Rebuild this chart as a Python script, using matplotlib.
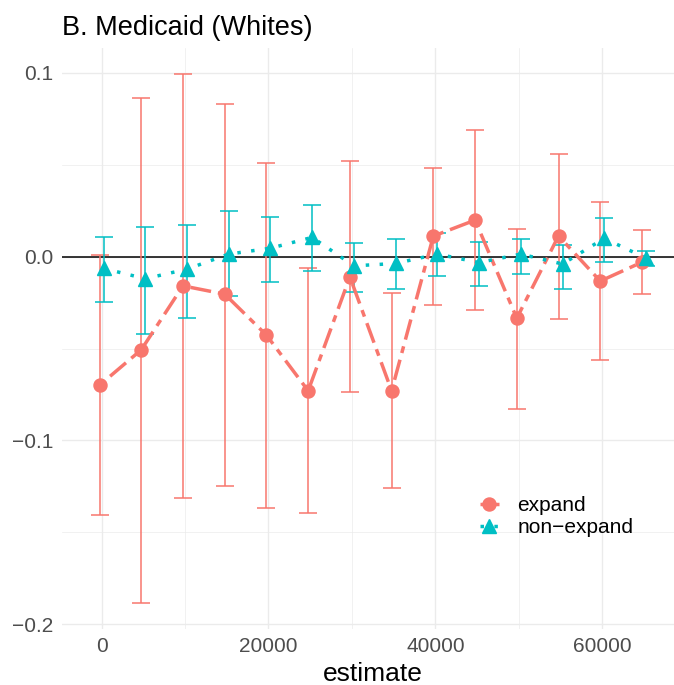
import matplotlib
matplotlib.use("Agg")
import matplotlib.pyplot as plt
from matplotlib.lines import Line2D
from matplotlib.ticker import MultipleLocator, FuncFormatter
import numpy as np

plt.rcParams['font.family'] = ['Liberation Sans', 'DejaVu Sans']

# data
estimate = [0, 5000, 10000, 15000, 20000, 25000, 30000, 35000,
            40000, 45000, 50000, 55000, 60000, 65000]

expand_est = [-0.070, -0.0507, -0.0159, -0.0204, -0.0427, -0.073, -0.011,
              -0.073, 0.0112, 0.0199, -0.0335, 0.0113, -0.0133, -0.003]
expand_lo = [-0.1407, -0.1883, -0.1315, -0.125, -0.137, -0.1396, -0.0736,
             -0.126, -0.0264, -0.029, -0.083, -0.0337, -0.056, -0.0204]
expand_hi = [0.001, 0.0862, 0.0997, 0.083, 0.051, -0.0063, 0.052,
             -0.020, 0.048, 0.069, 0.015, 0.056, 0.030, 0.0144]

nonexp_est = [-0.0064, -0.012, -0.0068, 0.0014, 0.0046, 0.0105, -0.005,
              -0.0037, 0.0014, -0.0032, 0.0014, -0.004, 0.010, -0.0008]
nonexp_lo = [-0.0246, -0.042, -0.0335, -0.0215, -0.014, -0.0077, -0.0195,
             -0.0177, -0.0106, -0.0159, -0.0095, -0.0177, -0.003, -0.005]
nonexp_hi = [0.0106, 0.016, 0.017, 0.025, 0.0215, 0.028, 0.0077,
             0.0095, 0.0128, 0.008, 0.0095, 0.0063, 0.021, 0.003]

red = '#F8766D'
teal = '#00BFC4'
dodge = 240

W, H = 674, 685
fig = plt.figure(figsize=(W / 100, H / 100), dpi=100)
ax = fig.add_axes([62 / W, (H - 629) / H, (683.5 - 62) / W, (629 - 48) / H])

x = np.array(estimate, dtype=float)
series = [
    (x - dodge, expand_est, expand_lo, expand_hi, red, 'o', (0, (2, 2, 6, 2)), 'expand'),
    (x + dodge, nonexp_est, nonexp_lo, nonexp_hi, teal, '^', (0, (1, 3)), 'non\u2212expand'),
]

ax.axhline(0, color='black', lw=1.1, zorder=2)

handles = []
for xs, est, lo, hi, col, mk, ls, lab in series:
    est = np.array(est); lo = np.array(lo); hi = np.array(hi)
    ax.errorbar(xs, est, yerr=[est - lo, hi - est], fmt='none', ecolor=col,
                elinewidth=1.1, capsize=6.6, capthick=1.1, zorder=3)
    ax.plot(xs, est, color=col, lw=2.5, linestyle=ls, dash_capstyle='butt', zorder=4)
    ax.plot(xs, est, color=col, marker=mk, ms=9.4, linestyle='none', zorder=5)
    handles.append(Line2D([], [], color=col, marker=mk, ms=9.4, lw=2.5,
                          linestyle=ls, dash_capstyle='butt', label=lab))

ax.set_xlim(-4735, 69735)
ax.set_ylim(-0.2027, 0.1136)
ax.xaxis.set_major_locator(MultipleLocator(20000))
ax.xaxis.set_minor_locator(MultipleLocator(10000))
ax.yaxis.set_major_locator(MultipleLocator(0.1))
ax.yaxis.set_minor_locator(MultipleLocator(0.05))
ax.yaxis.set_major_formatter(FuncFormatter(lambda v, p: f"{v:.1f}".replace('-', '\u2212')))

ax.grid(which='major', color='#EBEBEB', lw=1.0)
ax.grid(which='minor', color='#EBEBEB', lw=0.5)
ax.set_axisbelow(True)
for s in ax.spines.values():
    s.set_visible(False)
ax.tick_params(which='both', length=0, labelsize=15, labelcolor='#4D4D4D')
ax.tick_params(axis='x', pad=6)
ax.tick_params(axis='y', pad=6)

ax.set_xlabel('estimate', fontsize=19, labelpad=4)
ax.set_title('B. Medicaid (Whites)', loc='left', fontsize=19.5, pad=9.5)

fig.legend(handles=handles, loc='upper left', bbox_to_anchor=(480 / W, 1 - 496 / H),
           frameon=False, fontsize=15, handlelength=0.9, handletextpad=0.9,
           labelspacing=0.15, borderpad=0, borderaxespad=0)

fig.savefig('out.png', dpi=100)
